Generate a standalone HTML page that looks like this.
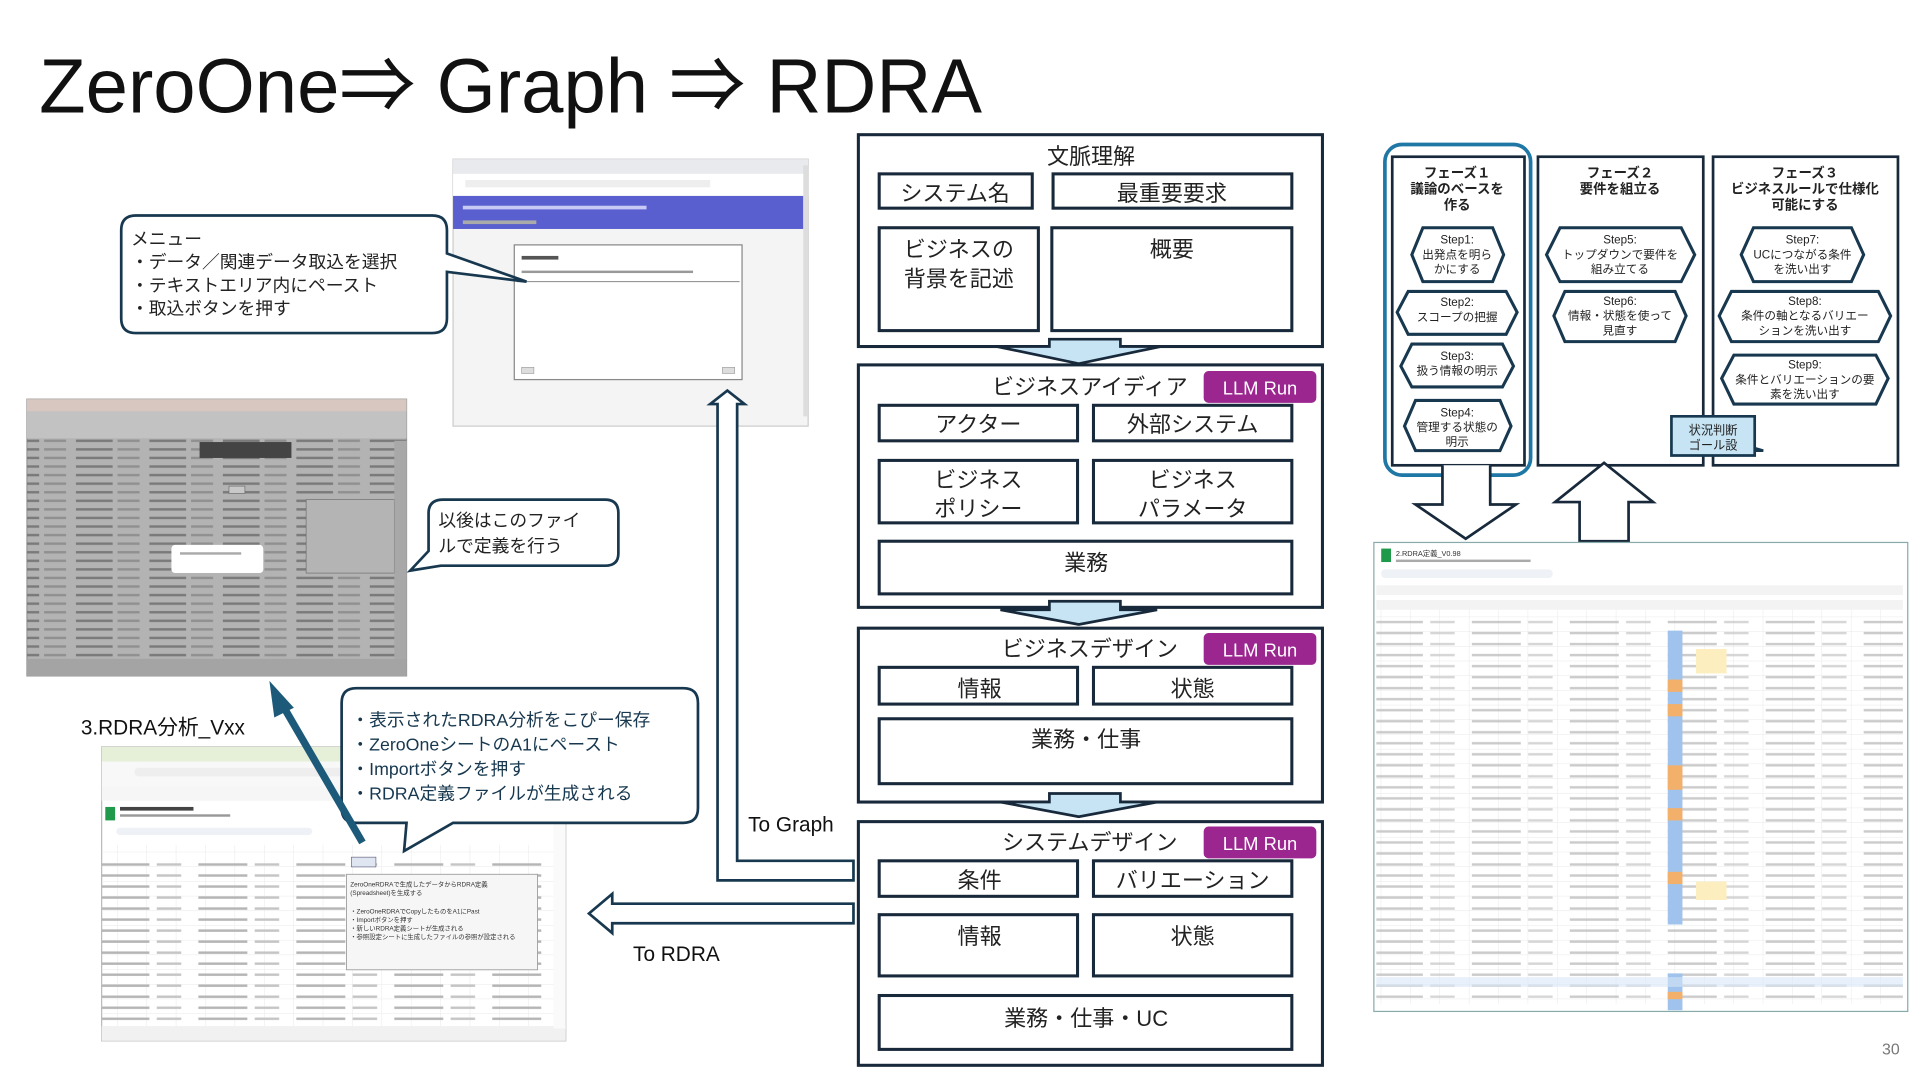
<!DOCTYPE html>
<html><head><meta charset="utf-8"><style>
html,body{margin:0;padding:0;background:#fff;width:1920px;height:1080px;overflow:hidden}
svg{display:block}
text{font-family:"Liberation Sans","Noto Sans CJK JP",sans-serif}
</style></head><body>
<svg width="1920" height="1080" viewBox="0 0 1568 882" xmlns="http://www.w3.org/2000/svg">
<defs>
<pattern id="txt" width="60" height="7" patternUnits="userSpaceOnUse">
<rect x="2" y="2" width="30" height="2" fill="#7a7a7a"/><rect x="36" y="2" width="18" height="2" fill="#909090"/>
</pattern>
<pattern id="txt2" width="80" height="9" patternUnits="userSpaceOnUse">
<rect x="2" y="3" width="40" height="2" fill="#b5b5b5"/><rect x="48" y="3" width="20" height="2" fill="#c5c5c5"/>
</pattern>
<pattern id="grid" width="24" height="12" patternUnits="userSpaceOnUse">
<path d="M0 12H24M24 0V12" stroke="#e2e2e2" stroke-width="0.6" fill="none"/>
</pattern>
</defs>

<text x="32" y="92" font-size="63" fill="#111" textLength="770" lengthAdjust="spacingAndGlyphs">ZeroOne⇒ Graph ⇒ RDRA</text>

<!-- Screenshot 1 -->
<rect x="370" y="130" width="290" height="218" fill="#f4f4f4" stroke="#ccc"/>
<rect x="370" y="130" width="290" height="12" fill="#e8eaee"/>
<rect x="370" y="142" width="290" height="18" fill="#fff"/>
<rect x="380" y="147" width="200" height="6" fill="#eee"/>
<rect x="370" y="160" width="286" height="27" fill="#5a5fd0"/>
<rect x="378" y="168" width="150" height="3" fill="#c8caf5"/>
<rect x="378" y="180" width="60" height="3" fill="#aaa"/>
<rect x="420" y="200" width="186" height="110" fill="#fff" stroke="#888" stroke-width="1"/>
<rect x="426" y="209" width="30" height="3" fill="#555"/>
<rect x="426" y="221" width="140" height="2" fill="#999"/>
<line x1="422" y1="230" x2="604" y2="230" stroke="#888" stroke-width="0.8"/>
<rect x="426" y="300" width="10" height="5" fill="#ddd" stroke="#999" stroke-width="0.5"/>
<rect x="590" y="300" width="10" height="5" fill="#ddd" stroke="#999" stroke-width="0.5"/>
<rect x="656" y="135" width="4" height="205" fill="#ddd"/>

<!-- Callout 1 -->
<path d="M111 176H353Q365 176 365 188V207L430 230L365 222V260Q365 272 353 272H111Q99 272 99 260V188Q99 176 111 176Z" fill="#fff" stroke="#17384f" stroke-width="2.2"/>
<text font-size="14.5" fill="#222"><tspan x="107" y="200">メニュー</tspan><tspan x="107" y="219">・データ／関連データ取込を選択</tspan><tspan x="107" y="238">・テキストエリア内にペースト</tspan><tspan x="107" y="257">・取込ボタンを押す</tspan></text>

<!-- Screenshot 2 -->
<rect x="22" y="326" width="310" height="226" fill="#b3b3b3" stroke="#999"/>
<rect x="22" y="326" width="310" height="10" fill="#d8c7c0"/>
<rect x="22" y="336" width="310" height="22" fill="#c2c2c2"/>
<rect x="22" y="358" width="310" height="180" fill="url(#txt)"/>
<rect x="22" y="538" width="310" height="14" fill="#a4a4a4"/>
<rect x="163" y="361" width="75" height="13" fill="#444"/>
<rect x="187" y="397" width="13" height="6" fill="#c8c8c8" stroke="#666" stroke-width="0.5"/>
<rect x="250" y="408" width="72" height="60" fill="#b4b4b4" stroke="#666" stroke-width="0.5"/>
<rect x="140" y="445" width="75" height="23" rx="3" fill="#fff"/>
<rect x="147" y="451" width="50" height="2" fill="#aaa"/>
<rect x="322" y="360" width="10" height="178" fill="#a8a8a8"/>

<!-- Callout 2 -->
<path d="M362 408H494Q505 408 505 419V452Q505 462 494 462H360L335 466L350 450V419Q350 408 362 408Z" fill="#fff" stroke="#17384f" stroke-width="2.2"/>
<text font-size="14.5" fill="#222"><tspan x="358" y="430">以後はこのファイ</tspan><tspan x="358" y="451">ルで定義を行う</tspan></text>

<text x="66" y="600" font-size="17" fill="#111">3.RDRA分析_Vxx</text>

<!-- Screenshot 3 -->
<rect x="83" y="610" width="379" height="240" fill="#fff" stroke="#bbb"/>
<rect x="83" y="610" width="379" height="12" fill="#e6f0d8"/>
<rect x="83" y="622" width="379" height="20" fill="#f8f8f8"/>
<rect x="110" y="627" width="200" height="7" rx="3" fill="#eee"/>
<rect x="83" y="642" width="379" height="12" fill="#f6f6f6"/>
<rect x="86" y="659" width="8" height="11" fill="#1e9a4a"/>
<rect x="98" y="659" width="60" height="3" fill="#444"/><rect x="98" y="665" width="90" height="2" fill="#999"/>
<rect x="95" y="676" width="160" height="6" rx="3" fill="#eef1f6"/>
<rect x="83" y="690" width="370" height="150" fill="url(#grid)"/>
<rect x="83" y="700" width="360" height="140" fill="url(#txt2)"/>
<rect x="287" y="700" width="20" height="8" fill="#dfe6f2" stroke="#557" stroke-width="0.5"/>
<rect x="283" y="714" width="156" height="78" fill="#f6f6f6" stroke="#999" stroke-width="0.7"/>
<text font-size="5.2" fill="#333"><tspan x="286" y="724">ZeroOneRDRAで生成したデータからRDRA定義</tspan><tspan x="286" y="731">(Spreadsheet)を生成する</tspan><tspan x="286" y="746">・ZeroOneRDRAでCopyしたものをA1にPast</tspan><tspan x="286" y="753">・Importボタンを押す</tspan><tspan x="286" y="760">・新しいRDRA定義シートが生成される</tspan><tspan x="286" y="767">・参照設定シートに生成したファイルの参照が設定される</tspan></text>
<rect x="83" y="838" width="379" height="12" fill="#f1f1f1"/>
<rect x="452" y="660" width="10" height="180" fill="#fafafa"/>

<!-- Callout 3 -->
<path d="M291 562H558Q570 562 570 574V660Q570 672 558 672H370L330 695L332 672H291Q279 672 279 660V574Q279 562 291 562Z" fill="#fff" stroke="#17384f" stroke-width="2.2"/>
<text font-size="14.5" fill="#17384f"><tspan x="287" y="593">・表示されたRDRA分析をこぴー保存</tspan><tspan x="287" y="613">・ZeroOneシートのA1にペースト</tspan><tspan x="287" y="633">・Importボタンを押す</tspan><tspan x="287" y="653">・RDRA定義ファイルが生成される</tspan></text>

<!-- dark blue arrow -->
<line x1="296" y1="688" x2="232" y2="578" stroke="#1d5a7a" stroke-width="6"/>
<polygon points="220,556 240,578 224,586" fill="#1d5a7a"/>

<!-- To Graph hollow arrow -->
<path d="M697 703H602V330H608L594 319L580 330H586V719H697Z" fill="#fff" stroke="#17384f" stroke-width="2.2"/>
<text x="611" y="679" font-size="17" fill="#111">To Graph</text>

<!-- To RDRA hollow arrow -->
<path d="M697 738H500V730L481 746L500 762V754H697Z" fill="#fff" stroke="#17384f" stroke-width="2.2"/>
<text x="517" y="785" font-size="17" fill="#111">To RDRA</text>

<!-- Center column -->
<g stroke="#17293a" stroke-width="2.5" fill="#fff">
<rect x="701" y="110" width="379" height="173"/>
<rect x="718" y="142" width="125" height="28"/>
<rect x="860" y="142" width="195" height="28"/>
<rect x="718" y="186" width="130" height="84"/>
<rect x="859" y="186" width="196" height="84"/>
<rect x="701" y="298" width="379" height="198"/>
<rect x="718" y="331" width="162" height="29"/>
<rect x="893" y="331" width="162" height="29"/>
<rect x="718" y="376" width="162" height="51"/>
<rect x="893" y="376" width="162" height="51"/>
<rect x="718" y="442" width="337" height="43"/>
<rect x="701" y="513" width="379" height="142"/>
<rect x="718" y="545" width="162" height="30"/>
<rect x="893" y="545" width="162" height="30"/>
<rect x="718" y="587" width="337" height="53"/>
<rect x="701" y="671" width="379" height="199"/>
<rect x="718" y="703" width="162" height="29"/>
<rect x="893" y="703" width="162" height="29"/>
<rect x="718" y="747" width="162" height="50"/>
<rect x="893" y="747" width="162" height="50"/>
<rect x="718" y="813" width="337" height="44"/>
</g>
<g fill="#c7e4f4" stroke="#17293a" stroke-width="2.2">
<path d="M857 283V277H915V283H948L881 297L814 283Z"/>
<path d="M857 498V491H915V498H945L881 510L817 498Z"/>
<path d="M857 655V648H915V655H945L881 667L817 655Z"/>
</g>
<g font-size="18" fill="#222" text-anchor="middle">
<text x="891" y="134">文脈理解</text>
<text x="780" y="164">システム名</text>
<text x="957" y="164">最重要要求</text>
<text x="783" y="210">ビジネスの</text>
<text x="783" y="234">背景を記述</text>
<text x="957" y="210">概要</text>
<text x="890" y="322">ビジネスアイディア</text>
<text x="799" y="353">アクター</text>
<text x="974" y="353">外部システム</text>
<text x="799" y="398">ビジネス</text>
<text x="799" y="422">ポリシー</text>
<text x="974" y="398">ビジネス</text>
<text x="974" y="422">パラメータ</text>
<text x="887" y="466">業務</text>
<text x="890" y="536">ビジネスデザイン</text>
<text x="800" y="569">情報</text>
<text x="974" y="569">状態</text>
<text x="887" y="610">業務・仕事</text>
<text x="890" y="694">システムデザイン</text>
<text x="800" y="725">条件</text>
<text x="974" y="725">バリエーション</text>
<text x="800" y="771">情報</text>
<text x="974" y="771">状態</text>
<text x="887" y="838">業務・仕事・UC</text>
</g>
<g>
<rect x="983" y="303" width="92" height="26" rx="4" fill="#9b2690"/>
<rect x="983" y="517" width="92" height="26" rx="4" fill="#9b2690"/>
<rect x="983" y="675" width="92" height="26" rx="4" fill="#9b2690"/>
<g font-size="15" fill="#fff" text-anchor="middle">
<text x="1029" y="322">LLM Run</text><text x="1029" y="536">LLM Run</text><text x="1029" y="694">LLM Run</text>
</g>
</g>

<!-- Phases -->
<rect x="1131" y="118" width="119" height="270" rx="14" fill="none" stroke="#1f77a6" stroke-width="3"/>
<g fill="#fff" stroke="#17293a" stroke-width="2.2">
<rect x="1137" y="128" width="108" height="252"/>
<rect x="1256" y="128" width="135" height="252"/>
<rect x="1399" y="128" width="151" height="252"/>
</g>
<g fill="#fff" stroke="#17293a" stroke-width="2.2">
<path d="M1178 380V412H1156L1197 440L1238 412H1217V380"/>
<path d="M1290 442V410H1270L1310 378L1350 410H1330V442Z"/>
</g>
<g font-size="11" font-weight="bold" fill="#222" text-anchor="middle">
<text x="1190" y="145">フェーズ１</text><text x="1190" y="158">議論のベースを</text><text x="1190" y="171">作る</text>
<text x="1323" y="145">フェーズ２</text><text x="1323" y="158">要件を組立る</text>
<text x="1474" y="145">フェーズ３</text><text x="1474" y="158">ビジネスルールで仕様化</text><text x="1474" y="171">可能にする</text>
</g>
<g fill="#fff" stroke="#17384f" stroke-width="2.5">
<polygon points="1153,208 1162,186 1219,186 1228,208 1219,230 1162,230"/>
<polygon points="1141,255 1150,238 1230,238 1239,255 1230,273 1150,273"/>
<polygon points="1144,299 1153,281 1227,281 1236,299 1227,316 1153,316"/>
<polygon points="1147,348 1156,327 1225,327 1234,348 1225,368 1156,368"/>
<polygon points="1263,208 1274,186 1373,186 1384,208 1373,230 1274,230"/>
<polygon points="1269,258 1278,238 1368,238 1377,258 1368,279 1278,279"/>
<polygon points="1422,208 1432,186 1512,186 1522,208 1512,230 1432,230"/>
<polygon points="1404,258 1414,238 1534,238 1544,258 1534,279 1414,279"/>
<polygon points="1406,309 1416,290 1532,290 1542,309 1532,330 1416,330"/>
</g>
<g font-size="9.5" fill="#222" text-anchor="middle">
<text x="1190" y="199">Step1:</text><text x="1190" y="211">出発点を明ら</text><text x="1190" y="223">かにする</text>
<text x="1190" y="250">Step2:</text><text x="1190" y="262">スコープの把握</text>
<text x="1190" y="294">Step3:</text><text x="1190" y="306">扱う情報の明示</text>
<text x="1190" y="340">Step4:</text><text x="1190" y="352">管理する状態の</text><text x="1190" y="364">明示</text>
<text x="1323" y="199">Step5:</text><text x="1323" y="211">トップダウンで要件を</text><text x="1323" y="223">組み立てる</text>
<text x="1323" y="249">Step6:</text><text x="1323" y="261">情報・状態を使って</text><text x="1323" y="273">見直す</text>
<text x="1472" y="199">Step7:</text><text x="1472" y="211">UCにつながる条件</text><text x="1472" y="223">を洗い出す</text>
<text x="1474" y="249">Step8:</text><text x="1474" y="261">条件の軸となるバリエー</text><text x="1474" y="273">ションを洗い出す</text>
<text x="1474" y="301">Step9:</text><text x="1474" y="313">条件とバリエーションの要</text><text x="1474" y="325">素を洗い出す</text>
</g>
<path d="M1365 340H1433V366L1440 368H1433V372H1365Z" fill="#c7e4f4" stroke="#17384f" stroke-width="2.2"/>
<text font-size="10" fill="#222" text-anchor="middle"><tspan x="1399" y="355">状況判断</tspan><tspan x="1399" y="367">ゴール設</tspan></text>

<!-- Spreadsheet -->
<rect x="1122" y="443" width="436" height="383" fill="#fff" stroke="#8aa" stroke-width="1"/>
<rect x="1128" y="448" width="8" height="11" fill="#1e9a4a"/>
<text x="1140" y="454" font-size="6" fill="#333">2.RDRA定義_V0.98</text>
<rect x="1140" y="457" width="110" height="2" fill="#aaa"/>
<rect x="1128" y="465" width="140" height="7" rx="3" fill="#eef1f6"/>
<rect x="1124" y="478" width="430" height="8" fill="#f3f3f3"/>
<rect x="1124" y="490" width="430" height="8" fill="#f3f3f3"/>
<rect x="1124" y="498" width="430" height="322" fill="url(#grid)"/>
<rect x="1124" y="505" width="430" height="310" fill="url(#txt2)" opacity="0.7"/>
<g>
<rect x="1362" y="515" width="12" height="240" fill="#9fc3ec"/>
<rect x="1362" y="555" width="12" height="10" fill="#f3b06a"/>
<rect x="1362" y="575" width="12" height="10" fill="#f3b06a"/>
<rect x="1362" y="625" width="12" height="20" fill="#f3b06a"/>
<rect x="1362" y="660" width="12" height="10" fill="#f3b06a"/>
<rect x="1362" y="712" width="12" height="10" fill="#f3b06a"/>
<rect x="1362" y="795" width="12" height="30" fill="#9fc3ec"/>
<rect x="1362" y="810" width="12" height="6" fill="#f3b06a"/>
<rect x="1385" y="530" width="25" height="20" fill="#fdeec0"/>
<rect x="1385" y="720" width="25" height="15" fill="#fdeec0"/>
<rect x="1124" y="798" width="430" height="8" fill="#d9e6f8" opacity="0.6"/>
</g>

<text x="1537" y="861" font-size="13" fill="#777">30</text>
</svg>
</body></html>
